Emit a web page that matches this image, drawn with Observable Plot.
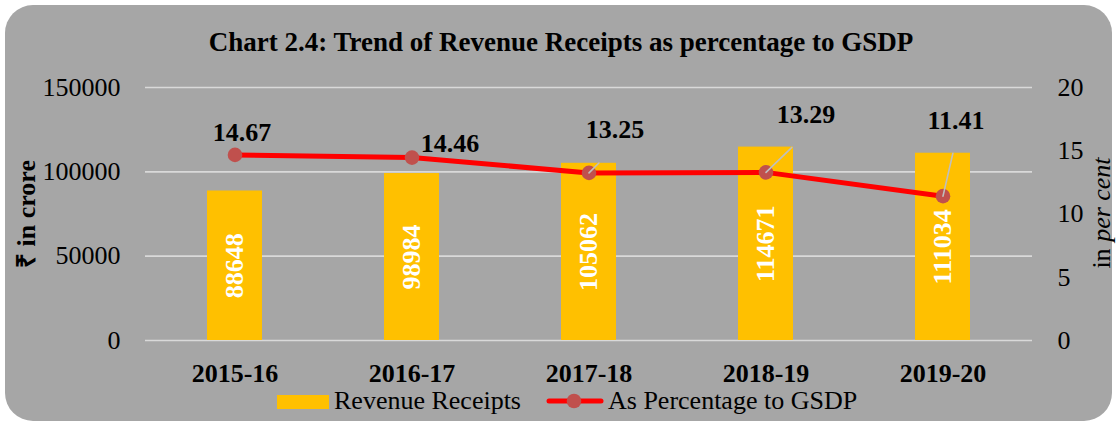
<!DOCTYPE html>
<html>
<head>
<meta charset="utf-8">
<script src="https://cdn.jsdelivr.net/npm/d3@7"></script>
<script src="https://cdn.jsdelivr.net/npm/@observablehq/plot@0.6"></script>
<style>
  html, body { margin: 0; padding: 0; background: #ffffff; }
  #wrap { position: relative; width: 1116px; height: 423px; overflow: hidden; font-family: "Liberation Serif", "Times New Roman", serif; }
  #bg { position: absolute; left: 5px; top: 5px; width: 1107px; height: 416px; background: #a6a6a6; border-radius: 28px; }
  #chart { position: absolute; left: 0; top: 0; }
  #title { position: absolute; left: 3px; top: 29px; width: 1116px; text-align: center; font-weight: bold; font-size: 27px; line-height: 1; color: #000; white-space: nowrap; }
  .ytitle { position: absolute; font-size: 26px; line-height: 1; color: #000; white-space: nowrap; transform-origin: center center; }
  #ylab { left: 27px; top: 214px; font-weight: bold; transform: translate(-50%, -50%) rotate(-90deg); }
  #ylab2 { left: 1102px; top: 213px; transform: translate(-50%, -50%) rotate(-90deg); }
  #legend { position: absolute; left: 0; top: 388px; width: 1116px; height: 30px; }
  .legtext { position: absolute; font-size: 26px; line-height: 14px; color: #000; white-space: nowrap; }
</style>
</head>
<body>
<div id="wrap">
  <div id="bg"></div>
  <div id="chart"></div>
  <div id="title">Chart 2.4: Trend of Revenue Receipts as percentage to GSDP</div>
  <div class="ytitle" id="ylab">₹ in crore</div>
  <div class="ytitle" id="ylab2">in <i>per cent</i></div>
  <div id="legend">
    <svg width="1116" height="30" style="position:absolute;left:0;top:0">
      <rect x="277" y="7" width="52" height="14" fill="#FFC000"></rect>
      <line x1="549" y1="13" x2="601" y2="13" stroke="#FF0000" stroke-width="5" stroke-linecap="round"></line>
      <circle cx="574" cy="13" r="7.3" fill="#C0504D"></circle>
    </svg>
    <div class="legtext" style="left:334px;top:6px">Revenue Receipts</div>
    <div class="legtext" style="left:608px;top:6px">As Percentage to GSDP</div>
  </div>
</div>
<script>
// ---- data ----
const years = ["2015-16", "2016-17", "2017-18", "2018-19", "2019-20"];
const revenue = [88648, 98984, 105062, 114671, 111034];
const pctGSDP = [14.67, 14.46, 13.25, 13.29, 11.41];
const leftTicks = [0, 50000, 100000, 150000];
const rightTicks = [0, 5, 10, 15, 20];

// right axis (0–20) mapped onto left axis (0–150000)
const K = 150000 / 20;

const rows = years.map((y, i) => ({year: y, rev: revenue[i], pct: pctGSDP[i]}));

// label placement (pixel offsets from the point)
const labelOffset = {
  "2015-16": [7, -22],
  "2016-17": [38, -14],
  "2017-18": [26, -43],
  "2018-19": [40, -58],
  "2019-20": [13, -75]
};
// leader lines (angle in degrees, length in px)
const leader = {
  "2017-18": [45, 14],
  "2018-19": [46, 36],
  "2019-20": [13, 44]
};

const FONT = "Liberation Serif, Times New Roman, serif";
const leaderShape = {draw(context, l) { context.moveTo(0, 0); context.lineTo(0, -l); }};

const chart = Plot.plot({
  width: 1116,
  height: 423,
  marginLeft: 145,
  marginRight: 84,
  marginTop: 87,
  marginBottom: 83,
  style: {background: "transparent", fontFamily: FONT, fontSize: "26px", color: "#000"},
  x: {domain: years, padding: 0},
  y: {domain: [0, 150000]},
  marks: [
    Plot.gridY(leftTicks, {stroke: "#d9d9d9", strokeOpacity: 1, strokeWidth: 1.6}),
    Plot.barY(rows, {x: "year", y: "rev", fill: "#FFC000", insetLeft: 61, insetRight: 61}),
    Plot.text(rows, {x: "year", y: d => d.rev / 2, text: d => String(d.rev), rotate: -90,
      fill: "#ffffff", fontWeight: "bold", fontSize: 26, fontFamily: FONT}),
    Plot.line(rows, {x: "year", y: d => d.pct * K, stroke: "#FF0000", strokeWidth: 5, curve: "linear"}),
    Plot.dot(rows, {x: "year", y: d => d.pct * K, r: 7.3, fill: "#C0504D", stroke: "none"}),
    ...rows.filter(d => leader[d.year]).map(r => Plot.vector([r], {
      x: "year", y: d => d.pct * K, anchor: "start",
      rotate: leader[r.year][0], length: leader[r.year][1],
      stroke: "#bfbfbf", strokeWidth: 1.6, shape: leaderShape
    })),
    ...rows.map(r => Plot.text([r], {
      x: "year", y: d => d.pct * K, text: d => d.pct.toFixed(2),
      dx: labelOffset[r.year][0], dy: labelOffset[r.year][1],
      fontWeight: "bold", fontSize: 26, fill: "#000", fontFamily: FONT
    })),
    Plot.axisY({anchor: "left", ticks: leftTicks, tickSize: 0, tickPadding: 25, label: null,
      tickFormat: d => String(d), fontSize: 26, fill: "#000", fontFamily: FONT}),
    Plot.axisY({anchor: "right", ticks: rightTicks.map(v => v * K), tickSize: 0, tickPadding: 25, label: null,
      tickFormat: d => String(Math.round(d / K)), fontSize: 26, fill: "#000", fontFamily: FONT}),
    Plot.axisX({anchor: "bottom", tickSize: 0, tickPadding: 23, label: null,
      fontSize: 26, fontWeight: "bold", fill: "#000", fontFamily: FONT})
  ]
});
document.getElementById("chart").appendChild(chart);
</script>
</body>
</html>
